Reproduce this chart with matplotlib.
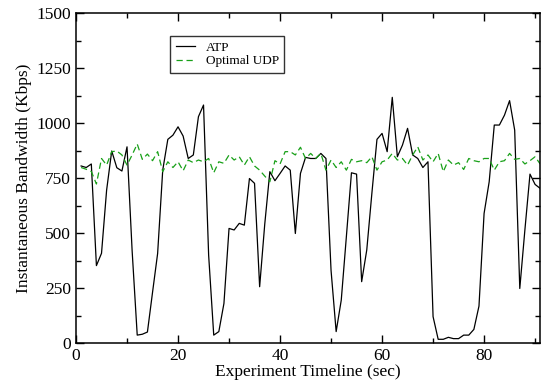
import numpy as np
import matplotlib
matplotlib.use("Agg")
from matplotlib import pyplot as plt
from matplotlib.ticker import MultipleLocator

plt.rcParams["font.family"] = ["Liberation Serif", "DejaVu Serif"]

# time axis (sec), one sample per second
seconds = list(range(1, 92))

atp = [805, 798, 814, 352, 408, 695, 873, 797, 782, 892,
       420, 36, 40, 50, 230, 407, 786, 926, 945, 983,
       941, 839, 855, 1029, 1082, 400, 36, 52, 180, 521,
       514, 544, 536, 748, 726, 256, 540, 779, 738, 771,
       805, 786, 498, 771, 844, 839, 839, 862, 839, 330,
       52, 195, 483, 774, 768, 279, 423, 680, 926, 953,
       870, 1117, 847, 900, 976, 855, 839, 798, 824, 120,
       17, 17, 26, 20, 20, 36, 36, 62, 168, 589,
       733, 991, 991, 1036, 1102, 968, 248, 514, 768, 721,
       703]

optimal_udp = [798, 790, 780, 723, 839, 809, 870, 873, 855, 809,
               855, 905, 835, 859, 829, 870, 779, 824, 798, 824,
               783, 832, 820, 832, 824, 839, 774, 824, 817, 855,
               832, 847, 809, 847, 805, 786, 759, 733, 829, 814,
               870, 870, 855, 890, 839, 862, 839, 862, 786, 832,
               798, 824, 786, 835, 824, 829, 820, 847, 786, 824,
               832, 862, 832, 839, 809, 855, 892, 832, 855, 824,
               862, 779, 832, 809, 820, 789, 839, 829, 824, 839,
               839, 786, 824, 829, 862, 835, 839, 814, 829, 847,
               814]

fig = plt.figure(figsize=(5.41, 3.85), dpi=100)
ax = fig.add_axes([0.1405, 0.109, 0.858, 0.857])

ax.plot(seconds, atp, color="black", linewidth=0.9, label="ATP")
ax.plot(seconds, optimal_udp, color="#18a018", linewidth=0.9,
        linestyle=(0, (5, 3)), label="Optimal UDP")

ax.set_xlim(0, 91)
ax.set_ylim(0, 1500)
ax.xaxis.set_major_locator(MultipleLocator(20))
ax.xaxis.set_minor_locator(MultipleLocator(10))
ax.yaxis.set_major_locator(MultipleLocator(250))
ax.yaxis.set_minor_locator(MultipleLocator(125))
ax.tick_params(which="both", direction="in", top=True, right=True, labelsize=12.5, width=1)
ax.tick_params(which="major", length=6)
ax.tick_params(which="minor", length=3.5)
for s in ax.spines.values():
    s.set_linewidth(1.1)

ax.set_xlabel("Experiment Timeline (sec)", fontsize=12.5, labelpad=0)
ax.set_ylabel("Instantaneous Bandwidth (Kbps)", fontsize=12.5, labelpad=3)

leg = ax.legend(loc="upper left", bbox_to_anchor=(0.203, 0.93), borderaxespad=0,
                fontsize=9.5, frameon=True, fancybox=False, edgecolor="black",
                handlelength=1.5, borderpad=0.4, labelspacing=0.1,
                handletextpad=0.8)
leg.get_frame().set_linewidth(1)

fig.savefig("out.png", dpi=100)
